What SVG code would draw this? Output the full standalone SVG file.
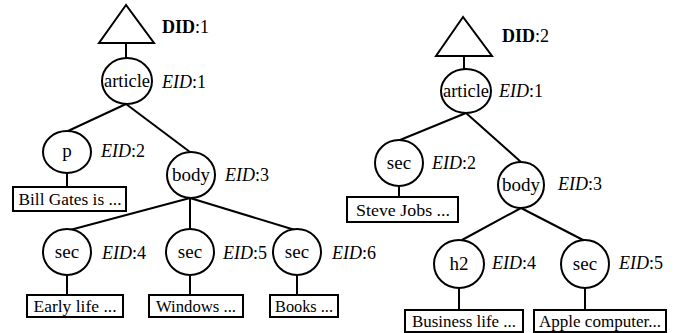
<svg xmlns="http://www.w3.org/2000/svg" width="683" height="333" viewBox="0 0 683 333">
<style>
.s{fill:none;stroke:#000;stroke-width:2}
.n{fill:#fff;stroke:#000;stroke-width:2}
text{font-family:"Liberation Serif","Times New Roman",serif;fill:#000}
.t{font-size:19px;text-anchor:middle}
.b{font-size:17px;text-anchor:middle}
.l{font-size:18px}
.i{font-style:italic}
.bd{font-weight:bold}
</style>
<rect width="683" height="333" fill="#fff"/>
<g id="connectors" class="s">
<line x1="126" y1="43" x2="126" y2="58"/>
<line x1="126" y1="104" x2="68" y2="131"/>
<line x1="126" y1="104" x2="190" y2="152"/>
<line x1="67" y1="173" x2="67" y2="187"/>
<line x1="190" y1="198" x2="70" y2="230"/>
<line x1="190" y1="198" x2="190" y2="229"/>
<line x1="190" y1="198" x2="295" y2="230"/>
<line x1="67" y1="275" x2="67" y2="295"/>
<line x1="190" y1="275" x2="190" y2="295"/>
<line x1="297" y1="275" x2="297" y2="295"/>
<line x1="464" y1="56" x2="464" y2="69"/>
<line x1="466" y1="113" x2="400" y2="140"/>
<line x1="466" y1="113" x2="521" y2="162"/>
<line x1="399" y1="186" x2="399" y2="197"/>
<line x1="521" y1="208" x2="462" y2="240"/>
<line x1="521" y1="208" x2="585" y2="241"/>
<line x1="459" y1="288" x2="459" y2="310"/>
<line x1="585" y1="288" x2="585" y2="310"/>
</g>
<g id="doc1">
<polygon class="n" points="126,5 99,43 154,43"/>
<text class="l" x="162" y="33"><tspan class="bd">DID</tspan>:1</text>
</g>
<g id="d1-article"><ellipse class="n" cx="127" cy="81" rx="25" ry="23"/><text class="t" x="127" y="87" textLength="46" lengthAdjust="spacingAndGlyphs">article</text><text class="l" x="162" y="88"><tspan class="i">EID</tspan>:1</text></g>
<g id="d1-p"><ellipse class="n" cx="67" cy="152" rx="24" ry="21"/><text class="t" x="67" y="157">p</text><text class="l" x="101" y="157"><tspan class="i">EID</tspan>:2</text></g>
<g id="d1-body"><ellipse class="n" cx="191" cy="175" rx="24" ry="23"/><text class="t" x="191" y="181">body</text><text class="l" x="225" y="181"><tspan class="i">EID</tspan>:3</text></g>
<g id="d1-text2"><rect class="n" x="13" y="187" width="113" height="24"/><text class="b" x="70" y="205" textLength="103" lengthAdjust="spacingAndGlyphs">Bill Gates is ...</text></g>
<g id="d1-sec4"><ellipse class="n" cx="67" cy="252" rx="24" ry="23"/><text class="t" x="67" y="258">sec</text><text class="l" x="102" y="259"><tspan class="i">EID</tspan>:4</text></g>
<g id="d1-sec5"><ellipse class="n" cx="190" cy="252" rx="24" ry="23"/><text class="t" x="190" y="258">sec</text><text class="l" x="223" y="259"><tspan class="i">EID</tspan>:5</text></g>
<g id="d1-sec6"><ellipse class="n" cx="297" cy="252" rx="24" ry="23"/><text class="t" x="297" y="258">sec</text><text class="l" x="332" y="259"><tspan class="i">EID</tspan>:6</text></g>
<g id="d1-text4"><rect class="n" x="27" y="295" width="96" height="22"/><text class="b" x="75" y="312" textLength="83" lengthAdjust="spacingAndGlyphs">Early life ...</text></g>
<g id="d1-text5"><rect class="n" x="149" y="295" width="94" height="22"/><text class="b" x="196" y="312" textLength="80" lengthAdjust="spacingAndGlyphs">Windows ...</text></g>
<g id="d1-text6"><rect class="n" x="270" y="295" width="68" height="22"/><text class="b" x="304" y="312" textLength="58" lengthAdjust="spacingAndGlyphs">Books ...</text></g>
<g id="doc2">
<polygon class="n" points="463,17 436,56 492,56"/>
<text class="l" x="502" y="42"><tspan class="bd">DID</tspan>:2</text>
</g>
<g id="d2-article"><ellipse class="n" cx="466" cy="91" rx="25" ry="22"/><text class="t" x="466" y="97" textLength="46" lengthAdjust="spacingAndGlyphs">article</text><text class="l" x="499" y="97"><tspan class="i">EID</tspan>:1</text></g>
<g id="d2-sec2"><ellipse class="n" cx="399" cy="163" rx="24" ry="23"/><text class="t" x="399" y="169">sec</text><text class="l" x="432" y="169"><tspan class="i">EID</tspan>:2</text></g>
<g id="d2-body"><ellipse class="n" cx="521" cy="185" rx="23" ry="23"/><text class="t" x="521" y="191">body</text><text class="l" x="558" y="190"><tspan class="i">EID</tspan>:3</text></g>
<g id="d2-text2"><rect class="n" x="347" y="197" width="111" height="25"/><text class="b" x="403" y="216" textLength="94" lengthAdjust="spacingAndGlyphs">Steve Jobs ...</text></g>
<g id="d2-h2"><ellipse class="n" cx="459" cy="264" rx="25" ry="24"/><text class="t" x="459" y="270">h2</text><text class="l" x="492" y="269"><tspan class="i">EID</tspan>:4</text></g>
<g id="d2-sec5"><ellipse class="n" cx="585" cy="264" rx="24" ry="24"/><text class="t" x="585" y="270">sec</text><text class="l" x="619" y="269"><tspan class="i">EID</tspan>:5</text></g>
<g id="d2-text4"><rect class="n" x="405" y="310" width="118" height="22"/><text class="b" x="464" y="327" textLength="104" lengthAdjust="spacingAndGlyphs">Business life ...</text></g>
<g id="d2-text5"><rect class="n" x="534" y="310" width="132" height="22"/><text class="b" x="600" y="327" textLength="122" lengthAdjust="spacingAndGlyphs">Apple computer...</text></g>
</svg>
